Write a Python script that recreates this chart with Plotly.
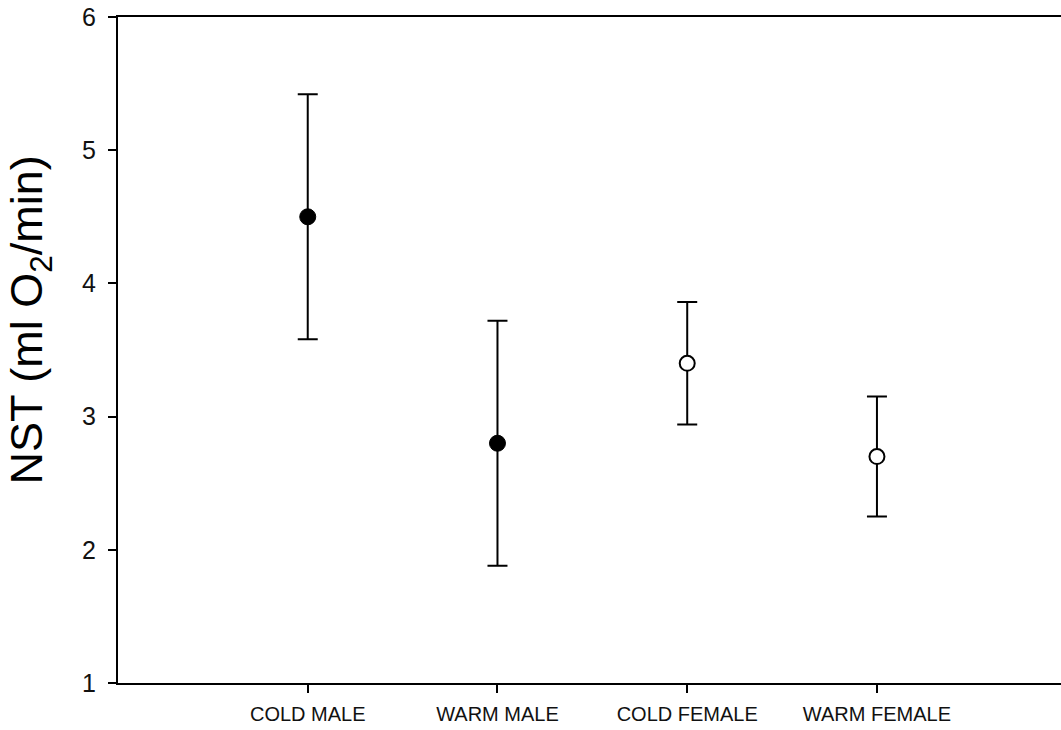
import plotly.graph_objects as go

# Group labels and measured NST means with error (±) values
groups = ["COLD MALE", "WARM MALE", "COLD FEMALE", "WARM FEMALE"]
positions = [1, 2, 3, 4]
nst_mean = [4.50, 2.80, 3.40, 2.70]
nst_err = [0.92, 0.92, 0.46, 0.45]

y_ticks = [1, 2, 3, 4, 5, 6]
y_title = "NST (ml O<sub>2</sub>/min)"

male = slice(0, 2)
female = slice(2, 4)

fig = go.Figure()

fig.add_trace(go.Scatter(
    x=positions[male], y=nst_mean[male],
    mode="markers",
    marker=dict(symbol="circle", size=16, color="black",
                line=dict(color="black", width=1)),
    error_y=dict(type="data", array=nst_err[male], visible=True,
                 color="black", thickness=2, width=10),
    showlegend=False,
))

fig.add_trace(go.Scatter(
    x=positions[female], y=nst_mean[female],
    mode="markers",
    marker=dict(symbol="circle", size=15, color="white",
                line=dict(color="black", width=2)),
    error_y=dict(type="data", array=nst_err[female], visible=True,
                 color="black", thickness=2, width=10),
    showlegend=False,
))

# Rotated y-axis title placed as an annotation
fig.add_annotation(
    text=y_title, textangle=-90,
    xref="paper", yref="paper", x=-0.094, y=0.545,
    xanchor="center", yanchor="middle", showarrow=False,
    font=dict(size=45, color="black"),
)

fig.update_layout(
    width=1061, height=730,
    margin=dict(l=118, r=0, t=17, b=47),
    paper_bgcolor="white", plot_bgcolor="white",
    font=dict(family="Liberation Sans, Arial, sans-serif", color="black"),
    xaxis=dict(
        range=[0, 4.97],
        tickmode="array", tickvals=positions, ticktext=groups,
        ticks="outside", ticklen=8, tickwidth=2, tickcolor="black",
        showline=True, linewidth=2, linecolor="black", mirror=True,
        showgrid=False, zeroline=False, ticklabelstandoff=4,
        tickfont=dict(size=20, color="#111"),
    ),
    yaxis=dict(
        range=[1, 6],
        tickmode="array", tickvals=y_ticks,
        ticks="outside", ticklen=8, tickwidth=2, tickcolor="black",
        showline=True, linewidth=2, linecolor="black", mirror=False,
        showgrid=False, zeroline=False, ticklabelstandoff=7,
        tickfont=dict(size=25, color="#111"),
    ),
)

fig.write_html("out.html")
